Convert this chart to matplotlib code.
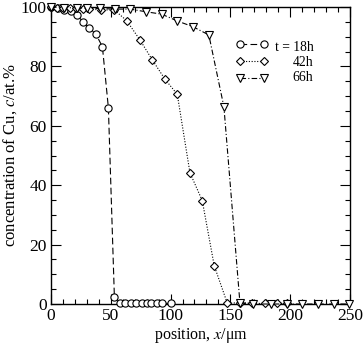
import matplotlib
matplotlib.use("Agg")
import matplotlib.pyplot as plt
from matplotlib.ticker import MultipleLocator

plt.rcParams['font.family'] = ['Liberation Serif', 'DejaVu Serif']
plt.rcParams['mathtext.fontset'] = 'stix'

# 18 h (circles)
x18 = [0, 6, 11, 17, 21.5, 27, 32, 37.5, 43, 48, 53, 58, 62, 66.5, 71, 76, 80, 84, 88.5, 93, 100]
c18 = [100, 99.5, 99, 98.6, 97.3, 95.0, 92.8, 90.9, 86.6, 66.0, 2.5, 0.3, 0.2, 0.2, 0.2, 0.2, 0.2, 0.2, 0.2, 0.2, 0.2]

# 42 h (diamonds)
x42 = [0, 5, 10, 16, 21, 27, 32, 42, 53, 63.3, 74.4, 84.7, 95.3, 105.6, 116.2, 126.5, 136.5, 147.5, 158, 168, 179, 189, 197]
c42 = [100, 99.8, 99.7, 99.6, 99.5, 99.4, 99.3, 99.0, 99.0, 95.4, 88.9, 82.2, 75.7, 70.6, 44.2, 34.8, 12.9, 0.2, 0.5, 0.2, 0.2, 0.2, 0.2]

# 66 h (triangles)
x66 = [0, 11, 22, 30, 41, 53.5, 66, 79.4, 92.5, 105.6, 118.5, 132, 144.6, 158, 169, 184, 197, 210, 223.5, 236.5, 249.5]
c66 = [100, 99.8, 99.7, 99.6, 99.5, 99.3, 99.3, 98.4, 97.6, 95.3, 93.4, 90.6, 66.4, 0.4, 0.0, 0.0, 0.0, 0.0, 0.0, 0.0, 0.0]

labels = ['t = 18h', '42h', '66h']

fig = plt.figure(figsize=(3.63, 3.45), dpi=100)
ax = fig.add_axes([0.1405, 0.1188, 0.8235, 0.8609])

lw = 0.8
h1, = ax.plot(x18, c18, linestyle=(0, (6, 3)), color='black', lw=lw, marker='o', ms=5.2,
              mfc='white', mec='black', mew=0.8, clip_on=False, zorder=3)
h2, = ax.plot(x42, c42, linestyle=(0, (1, 1.5)), color='black', lw=lw, marker='D', ms=3.6,
              mfc='white', mec='black', mew=0.8, clip_on=False, zorder=3)
h3, = ax.plot(x66, c66, linestyle=(0, (5, 2, 1, 2)), color='black', lw=lw, marker='v', ms=5.5,
              mfc='white', mec='black', mew=0.8, clip_on=False, zorder=3)

ax.set_xlim(0, 250)
ax.set_ylim(0, 100)
ax.xaxis.set_major_locator(MultipleLocator(50))
ax.xaxis.set_minor_locator(MultipleLocator(10))
ax.yaxis.set_major_locator(MultipleLocator(20))
ax.yaxis.set_minor_locator(MultipleLocator(5))
ax.tick_params(which='both', direction='in', top=True, right=True, labelsize=12.5, width=0.8)
ax.tick_params(which='major', length=7, pad=3)
ax.tick_params(which='minor', length=3.5)
for s in ax.spines.values():
    s.set_linewidth(1.0)

ax.set_xlabel('position, $x$/μm', fontsize=11.5, labelpad=1)
ax.set_ylabel('concentration of Cu, $c$/at.%', fontsize=12, labelpad=1)

# legend: handles via legend, labels right-aligned as text
leg = ax.legend([h1, h2, h3], ['', '', ''], loc='center left', bbox_to_anchor=(0.617, 0.813),
                frameon=False, fontsize=10.5, handlelength=2.24, handletextpad=0,
                labelspacing=0.25, borderpad=0, borderaxespad=0, numpoints=2)
row_y = [0.862, 0.812, 0.761]
for lab, yy in zip(labels, row_y):
    ax.text(0.878, yy, lab, transform=ax.transAxes, ha='right', va='center', fontsize=9.8)

fig.savefig('out.png', dpi=100)
